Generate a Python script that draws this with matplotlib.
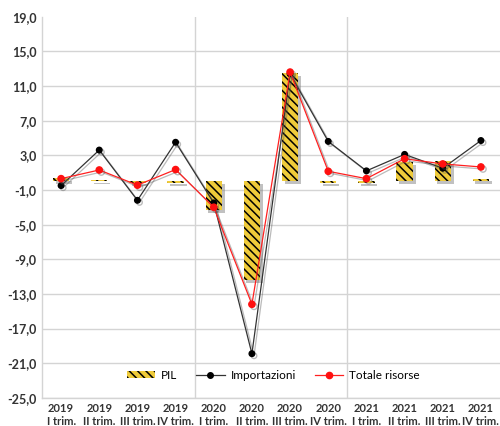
import matplotlib.pyplot as plt
import matplotlib.patheffects as pe
from matplotlib.lines import Line2D
from matplotlib.patches import Patch

plt.rcParams['font.family'] = ['Lato', 'DejaVu Sans']
plt.rcParams['hatch.linewidth'] = 1.1

# Variazioni congiunturali (%)
trimestri = ['2019\nI trim.', '2019\nII trim.', '2019\nIII trim.', '2019\nIV trim.',
             '2020\nI trim.', '2020\nII trim.', '2020\nIII trim.', '2020\nIV trim.',
             '2021\nI trim.', '2021\nII trim.', '2021\nIII trim.', '2021\nIV trim.']
pil = [0.4, 0.1, -0.2, -0.2, -3.3, -11.4, 12.5, -0.2, -0.2, 2.2, 2.3, 0.3]
importazioni = [-0.5, 3.6, -2.2, 4.5, -2.5, -19.9, 12.4, 4.6, 1.2, 3.1, 1.5, 4.7]
totale_risorse = [0.3, 1.3, -0.45, 1.35, -3.0, -14.2, 12.6, 1.15, 0.3, 2.6, 2.0, 1.65]
yticks = [19, 15, 11, 7, 3, -1, -5, -9, -13, -17, -21, -25]

fig = plt.figure(figsize=(5.0, 4.26), dpi=100)
ax = fig.add_axes([0.084, 0.066, 0.916, 0.895])

x = range(len(trimestri))
grid_col = '#d4d4d4'
hatch = '\\\\\\\\'

for t in yticks[1:]:
    ax.axhline(t, color=grid_col, lw=1.0, zorder=0)
for xv in [3.5, 7.5]:
    ax.axvline(xv, color=grid_col, lw=1.0, zorder=0)

bars = ax.bar(x, pil, width=0.43, color='#EFCB3A', edgecolor='black',
              linewidth=0, hatch=hatch, zorder=2)
for b in bars:
    b.set_path_effects([pe.withSimplePatchShadow(offset=(2, -2), shadow_rgbFace='#777777',
                                                 alpha=0.45, hatch=None)])

shadow = [pe.SimpleLineShadow(offset=(1.5, -1.5), shadow_color='#555555', alpha=0.4), pe.Normal()]
ax.plot(x, importazioni, color='#333333', lw=0.9, marker='o', markersize=4,
        markerfacecolor='black', markeredgecolor='black', zorder=3, path_effects=shadow)
ax.plot(x, totale_risorse, color='#ff2020', lw=0.9, marker='o', markersize=4.5,
        markerfacecolor='#ff1010', markeredgecolor='#ff1010', zorder=4, path_effects=shadow)

ax.set_xlim(-0.5, 11.5)
ax.set_ylim(-25, 19)
ax.set_yticks(yticks)
ax.set_yticklabels([f'{t:.1f}'.replace('.', ',') for t in yticks],
                   fontsize=9, fontweight='bold', color='#333333')
ax.set_xticks(list(x))
ax.set_xticklabels(trimestri, fontsize=8, fontweight='bold', color='#333333',
                   linespacing=1.2)
ax.tick_params(length=0, pad=4)

for s in ['top', 'right']:
    ax.spines[s].set_visible(False)
for s in ['left', 'bottom']:
    ax.spines[s].set_color(grid_col)
    ax.spines[s].set_linewidth(1.0)

handles = [Patch(facecolor='#EFCB3A', edgecolor='black', linewidth=0, hatch=hatch),
           Line2D([], [], color='#333333', lw=0.9, marker='o', markersize=4,
                  markerfacecolor='black', markeredgecolor='black'),
           Line2D([], [], color='#ff2020', lw=0.9, marker='o', markersize=4.5,
                  markerfacecolor='#ff1010', markeredgecolor='#ff1010')]
ax.legend(handles, ['PIL', 'Importazioni', 'Totale risorse'], loc='center',
          bbox_to_anchor=(0.505, 0.06), ncol=3, frameon=False, fontsize=8.5,
          handlelength=2.4, handleheight=0.5, columnspacing=1.6, handletextpad=0.5)

fig.savefig('out.png', dpi=100)
